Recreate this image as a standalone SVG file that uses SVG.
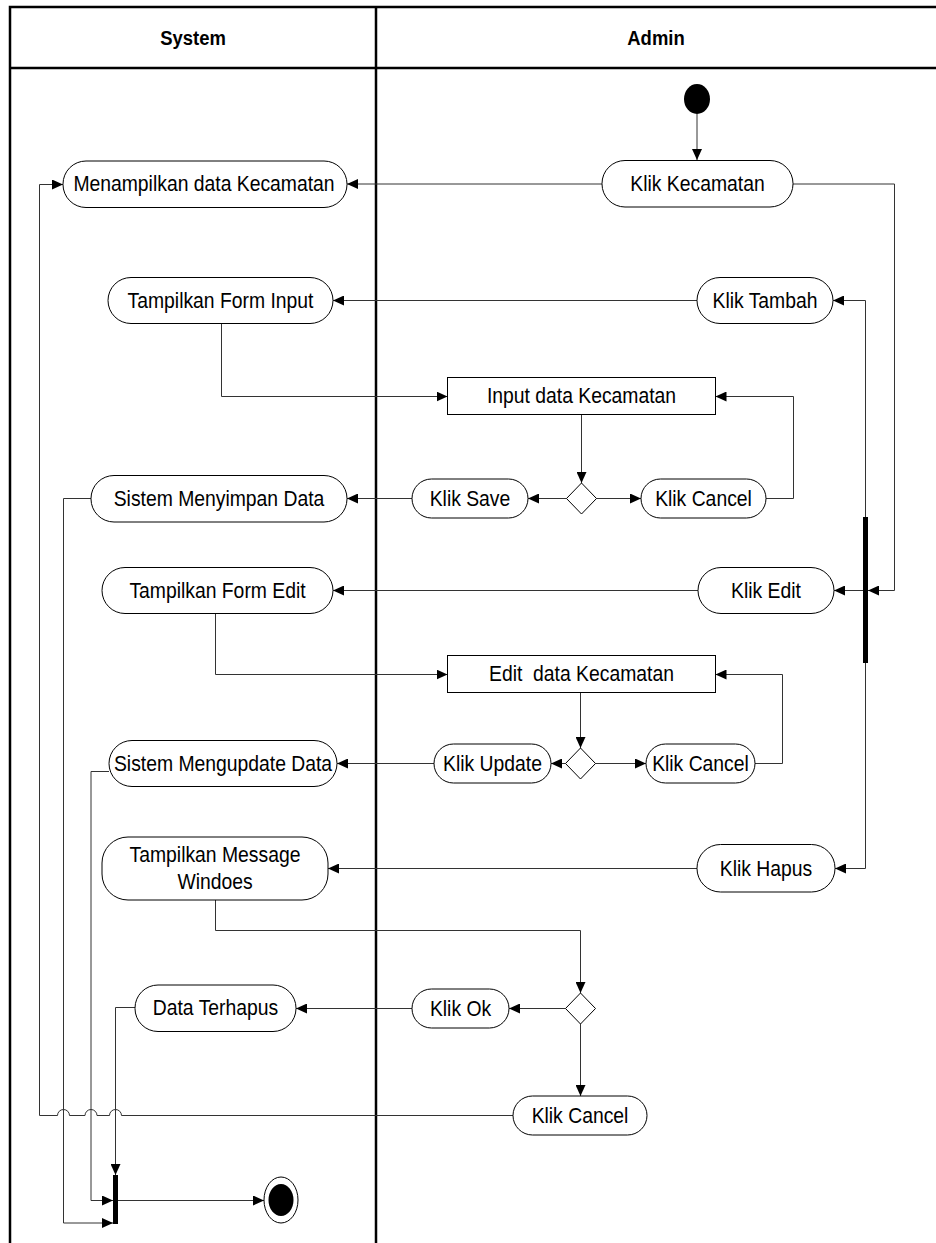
<svg xmlns="http://www.w3.org/2000/svg" width="936" height="1243" viewBox="0 0 936 1243">
  <style>
    .lane { fill: none; stroke: #000; stroke-width: 2.5; }
    .hdr { font-family: "Liberation Sans", Arial, sans-serif; font-size: 20.5px; font-weight: bold; fill: #000; text-anchor: middle;
           transform-box: fill-box; transform-origin: center; transform: scaleX(0.9); }
    .act { fill: #fff; stroke: #000; stroke-width: 1; }
    .lbl { font-family: "Liberation Sans", Arial, sans-serif; font-size: 21.5px; fill: #000; text-anchor: middle;
           transform-box: fill-box; transform-origin: center; transform: scaleX(0.9); }
    .flow { fill: none; stroke: #333; stroke-width: 1; }
    .arr { fill: none; stroke: #333; stroke-width: 1; marker-end: url(#head); }
    .bar { fill: #000; }
  </style>
  <defs>
    <marker id="head" markerUnits="userSpaceOnUse" markerWidth="11" markerHeight="10" refX="11" refY="5" orient="auto">
      <path d="M0,0 L11,5 L0,10 z" fill="#000"/>
    </marker>
  </defs>

  <rect width="936" height="1243" fill="#fff"/>

  <!-- swimlane frame -->
  <g id="lanes">
    <path class="lane" d="M10,1243 V7 H936 M10,68 H936 M376,7 V1243"/>
    <text class="hdr" x="193" y="45">System</text>
    <text class="hdr" x="656" y="45">Admin</text>
  </g>

  <!-- connectors -->
  <g id="connectors">
    <path class="arr" d="M697,114 V160"/>
    <path class="arr" d="M602,184 H347"/>
    <path class="arr" d="M793,184 H894.5 V590.5 H868"/>
    <path class="arr" d="M865.5,517 V300.5 H833"/>
    <path class="arr" d="M863,590.5 H834"/>
    <path class="arr" d="M865.5,663 V868.5 H835"/>
    <path class="arr" d="M697,300.5 H333"/>
    <path class="arr" d="M221.5,323 V396.5 H447.5"/>
    <path class="arr" d="M581.5,414.5 V483"/>
    <path class="arr" d="M566.5,498.5 H528"/>
    <path class="arr" d="M596.5,498.5 H641"/>
    <path class="arr" d="M766,498.5 H793.5 V396.5 H715.5"/>
    <path class="arr" d="M412,498.5 H347"/>
    <path class="arr" d="M91,498.5 H63.5 V1223 H113"/>
    <path class="arr" d="M698,590.5 H333"/>
    <path class="arr" d="M215.5,614 V674.5 H447.5"/>
    <path class="arr" d="M580.5,692.5 V748"/>
    <path class="arr" d="M565.5,763.5 H551"/>
    <path class="arr" d="M595.5,763.5 H646"/>
    <path class="arr" d="M755,763.5 H782.5 V674.5 H715.5"/>
    <path class="arr" d="M434,763.5 H337"/>
    <path class="arr" d="M109,771.5 H91 V1200.5 H113"/>
    <path class="arr" d="M697,868.5 H328"/>
    <path class="arr" d="M215.5,900 V930.5 H580.5 V993"/>
    <path class="arr" d="M565.5,1008.5 H509"/>
    <path class="arr" d="M580.5,1024 V1096"/>
    <path class="arr" d="M412,1008.5 H296"/>
    <path class="arr" d="M135,1007.5 H115.5 V1175"/>
    <path class="arr" d="M513,1115.5 H121.5 a6,6 0 0 0 -12,0 H97 a6,6 0 0 0 -12,0 H69.5 a6,6 0 0 0 -12,0 H39.5 V184.5 H63"/>
    <path class="arr" d="M118,1200.5 H264"/>
  </g>

  <!-- start -->
  <g id="start">
    <ellipse cx="697" cy="99" rx="13" ry="15" fill="#000"/>
  </g>

  <g id="klik-kecamatan">
    <rect class="act" x="602" y="160.5" width="191" height="46.5" rx="23"/>
    <text class="lbl" x="697.5" y="191.5">Klik Kecamatan</text>
  </g>
  <g id="menampilkan-data">
    <rect class="act" x="63" y="161" width="284" height="46.5" rx="23"/>
    <text class="lbl" x="204" y="191.5">Menampilkan data Kecamatan</text>
  </g>

  <g id="klik-tambah">
    <rect class="act" x="697" y="277.5" width="136" height="46" rx="23"/>
    <text class="lbl" x="765" y="308">Klik Tambah</text>
  </g>
  <g id="form-input">
    <rect class="act" x="108" y="277.5" width="225" height="46" rx="23"/>
    <text class="lbl" x="220.5" y="308">Tampilkan Form Input</text>
  </g>

  <g id="input-data">
    <rect class="act" x="447.5" y="377.5" width="268" height="37"/>
    <text class="lbl" x="581.5" y="403.5">Input data Kecamatan</text>
  </g>
  <g id="decision-save">
    <path class="act" d="M581.5,483 L596.5,498.5 L581.5,514 L566.5,498.5 z"/>
  </g>
  <g id="klik-save">
    <rect class="act" x="412" y="479" width="116" height="39" rx="19.5"/>
    <text class="lbl" x="470" y="506">Klik Save</text>
  </g>
  <g id="klik-cancel-input">
    <rect class="act" x="641" y="479" width="125" height="39" rx="19.5"/>
    <text class="lbl" x="703.5" y="506">Klik Cancel</text>
  </g>
  <g id="simpan-data">
    <rect class="act" x="91" y="475.5" width="256" height="46.5" rx="23"/>
    <text class="lbl" x="219" y="506">Sistem Menyimpan Data</text>
  </g>

  <!-- fork bar -->
  <g id="fork">
    <rect class="bar" x="863" y="517" width="5" height="146"/>
  </g>

  <g id="klik-edit">
    <rect class="act" x="698" y="567.5" width="136" height="46" rx="23"/>
    <text class="lbl" x="766" y="598">Klik Edit</text>
  </g>
  <g id="form-edit">
    <rect class="act" x="102" y="567.5" width="231" height="46" rx="23"/>
    <text class="lbl" x="217.5" y="598">Tampilkan Form Edit</text>
  </g>

  <g id="edit-data">
    <rect class="act" x="447.5" y="655.5" width="268" height="37"/>
    <text class="lbl" x="581.5" y="681.5" xml:space="preserve">Edit  data Kecamatan</text>
  </g>
  <g id="decision-update">
    <path class="act" d="M580.5,748 L595.5,763.5 L580.5,779 L565.5,763.5 z"/>
  </g>
  <g id="klik-update">
    <rect class="act" x="434" y="744" width="117" height="39" rx="19.5"/>
    <text class="lbl" x="492.5" y="771">Klik Update</text>
  </g>
  <g id="klik-cancel-edit">
    <rect class="act" x="646" y="744" width="109" height="39" rx="19.5"/>
    <text class="lbl" x="700.5" y="771">Klik Cancel</text>
  </g>
  <g id="update-data">
    <rect class="act" x="109" y="740.5" width="228" height="46" rx="23"/>
    <text class="lbl" x="223" y="771">Sistem Mengupdate Data</text>
  </g>

  <g id="klik-hapus">
    <rect class="act" x="697" y="844.5" width="138" height="47.5" rx="23.5"/>
    <text class="lbl" x="766" y="876">Klik Hapus</text>
  </g>
  <g id="message-window">
    <rect class="act" x="102" y="837" width="226" height="63" rx="26"/>
    <text class="lbl" x="215" y="862">Tampilkan Message</text>
    <text class="lbl" x="215" y="889.5">Windoes</text>
  </g>

  <g id="decision-hapus">
    <path class="act" d="M580.5,993 L595.5,1008.5 L580.5,1024 L565.5,1008.5 z"/>
  </g>
  <g id="klik-ok">
    <rect class="act" x="412" y="989" width="97" height="39" rx="19.5"/>
    <text class="lbl" x="460.5" y="1016">Klik Ok</text>
  </g>
  <g id="data-terhapus">
    <rect class="act" x="135" y="985" width="161" height="46.5" rx="23"/>
    <text class="lbl" x="215.5" y="1015.5">Data Terhapus</text>
  </g>
  <g id="klik-cancel-hapus">
    <rect class="act" x="513" y="1096" width="134" height="39" rx="19.5"/>
    <text class="lbl" x="580" y="1123">Klik Cancel</text>
  </g>

  <!-- join bar -->
  <g id="join">
    <rect class="bar" x="113" y="1175" width="5" height="49"/>
  </g>

  <!-- final -->
  <g id="final">
    <ellipse cx="281" cy="1200" rx="17" ry="23" fill="#fff" stroke="#000" stroke-width="1"/>
    <ellipse cx="281" cy="1200" rx="12.5" ry="16" fill="#000"/>
  </g>
</svg>
